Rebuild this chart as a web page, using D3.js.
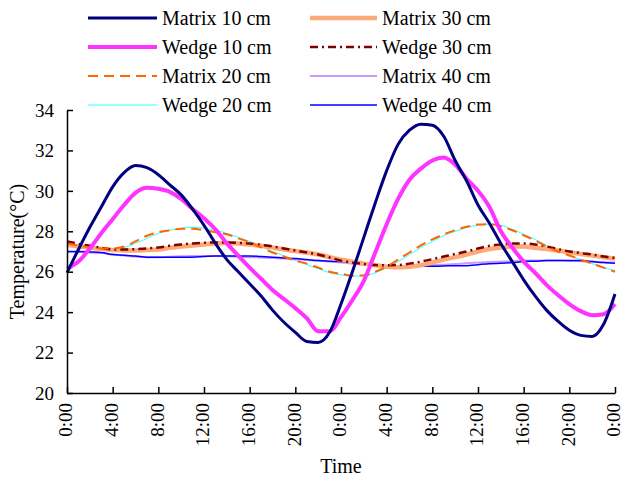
<!DOCTYPE html>
<html>
<head>
<meta charset="utf-8">
<script src="https://cdn.jsdelivr.net/npm/d3@7/dist/d3.min.js"></script>
<style>
    body { margin: 0; background: #ffffff; }
    svg text { font-family: "Liberation Serif", "Times New Roman", serif; fill: #000; }
</style>
</head>
<body>
<div id="chart"></div>
<script>
// soil temperature, two days, hourly readings

const hours = [0,1,2,3,4,5,6,7,8,9,10,11,12,13,14,15,16,17,18,19,20,21,22,23,24,
    25,26,27,28,29,30,31,32,33,34,35,36,37,38,39,40,41,42,43,44,45,46,47,48];

const matrix10 = [25.95,27.1,28.2,29.2,30.2,30.9,31.25,31.15,30.8,30.3,29.8,29.1,28.3,27.4,26.6,26.0,25.4,24.8,24.1,23.5,23.0,22.55,22.5,23.0,24.4,
    26.0,27.7,29.4,31.0,32.3,33.0,33.3,33.25,32.7,31.5,30.5,29.3,28.4,27.4,26.5,25.6,24.8,24.1,23.55,23.1,22.85,22.8,23.4,24.9];
const wedge10 = [26.15,26.5,27.15,27.9,28.6,29.3,29.9,30.15,30.1,29.95,29.6,29.1,28.65,28.1,27.4,26.8,26.2,25.65,25.1,24.65,24.2,23.7,23.05,23.05,23.75,
    24.6,25.55,26.95,28.35,29.6,30.55,31.1,31.5,31.65,31.3,30.6,30.0,29.2,28.0,27.2,26.5,25.95,25.35,24.85,24.4,24.05,23.85,23.9,24.4];
const matrix20 = [27.4,27.3,27.2,27.15,27.15,27.25,27.5,27.78,27.95,28.05,28.12,28.12,28.05,27.95,27.85,27.65,27.45,27.2,26.95,26.75,26.55,26.4,26.2,26.0,25.9,
    25.8,25.82,26.0,26.25,26.6,26.95,27.3,27.6,27.85,28.05,28.22,28.33,28.35,28.25,28.05,27.8,27.55,27.25,27.0,26.8,26.6,26.4,26.2,26.0];
const wedge20 = [27.35,27.25,27.15,27.1,27.1,27.2,27.4,27.65,27.9,28.05,28.15,28.2,28.15,28.05,27.9,27.7,27.5,27.25,27.0,26.78,26.55,26.35,26.15,25.95,25.85,
    25.78,25.8,25.95,26.2,26.5,26.85,27.2,27.5,27.78,28.0,28.18,28.3,28.35,28.3,28.1,27.85,27.6,27.3,27.05,26.8,26.6,26.4,26.2,26.05];
const matrix30 = [27.35,27.25,27.2,27.12,27.08,27.05,27.05,27.08,27.1,27.18,27.25,27.3,27.35,27.4,27.42,27.4,27.35,27.28,27.2,27.1,27.02,26.95,26.85,26.72,26.6,
    26.5,26.4,26.32,26.25,26.22,26.25,26.32,26.45,26.6,26.72,26.85,27.0,27.12,27.2,27.25,27.25,27.18,27.12,27.05,26.95,26.88,26.8,26.72,26.65];
const wedge30 = [27.5,27.38,27.28,27.18,27.1,27.1,27.12,27.15,27.2,27.28,27.35,27.4,27.43,27.45,27.45,27.43,27.4,27.33,27.25,27.15,27.05,26.95,26.85,26.7,26.55,
    26.45,26.38,26.33,26.32,26.33,26.4,26.5,26.62,26.75,26.88,27.0,27.15,27.28,27.35,27.4,27.4,27.35,27.25,27.12,27.0,26.92,26.85,26.75,26.68];
const matrix40 = [26.98,26.98,26.95,26.92,26.85,26.8,26.75,26.72,26.72,26.74,26.76,26.78,26.78,26.78,26.76,26.74,26.72,26.7,26.68,26.65,26.62,26.58,26.55,26.5,26.45,
    26.4,26.35,26.3,26.28,26.27,26.28,26.3,26.32,26.35,26.38,26.42,26.45,26.48,26.5,26.52,26.55,26.55,26.55,26.55,26.53,26.52,26.5,26.47,26.45];
const wedge40 = [27.0,27.0,26.98,26.95,26.85,26.82,26.78,26.72,26.72,26.72,26.72,26.72,26.75,26.78,26.78,26.78,26.78,26.75,26.72,26.68,26.65,26.6,26.55,26.52,26.5,
    26.48,26.42,26.35,26.3,26.27,26.27,26.27,26.27,26.28,26.3,26.3,26.35,26.4,26.42,26.45,26.5,26.52,26.55,26.55,26.55,26.55,26.5,26.45,26.42];

const seriesNames = ["Matrix 10 cm","Wedge 10 cm","Matrix 20 cm","Wedge 20 cm",
    "Matrix 30 cm","Wedge 30 cm","Matrix 40 cm","Wedge 40 cm"];

const tickHours = [0,4,8,12,16,20,24,28,32,36,40,44,48];
const tickLabels = ["0:00","4:00","8:00","12:00","16:00","20:00","0:00","4:00","8:00","12:00","16:00","20:00","0:00"];
const yTicks = [20,22,24,26,28,30,32,34];

// line styles per series
const styles = {
    "Matrix 10 cm": {values: matrix10, color: "#000080", width: 3, dash: null},
    "Wedge 10 cm":  {values: wedge10,  color: "#ff33ff", width: 4, dash: null},
    "Matrix 20 cm": {values: matrix20, color: "#ff6600", width: 2, dash: "10,6"},
    "Wedge 20 cm":  {values: wedge20,  color: "#33ffff", width: 1, dash: null},
    "Matrix 30 cm": {values: matrix30, color: "#fbaa78", width: 4.5, dash: null},
    "Wedge 30 cm":  {values: wedge30,  color: "#800000", width: 2.5, dash: "8,4,2,4"},
    "Matrix 40 cm": {values: matrix40, color: "#cc99ff", width: 2, dash: null},
    "Wedge 40 cm":  {values: wedge40,  color: "#0000ff", width: 1.5, dash: null}
};

// back to front
const drawOrder = ["Wedge 20 cm","Matrix 40 cm","Wedge 40 cm","Matrix 30 cm",
    "Wedge 30 cm","Matrix 20 cm","Wedge 10 cm","Matrix 10 cm"];

const width = 622;
const height = 477;
const margin = {top: 110, right: 7, bottom: 84, left: 67};

const svg = d3.select("#chart")
    .append("svg")
    .attr("width", width)
    .attr("height", height)
    .style("background-color", "#ffffff");

let xScale = d3.scaleLinear()
    .domain([0, 48])
    .range([margin.left, width - margin.right]);

let yScale = d3.scaleLinear()
    .domain([20, 34])
    .range([height - margin.bottom, margin.top]);

//lines
let line = d3.line()
    .x((d, i) => xScale(hours[i]))
    .y(d => yScale(d))
    .curve(d3.curveMonotoneX);

svg.append("g")
    .selectAll("path")
    .data(drawOrder)
    .enter()
    .append("path")
    .attr("d", d => line(styles[d].values))
    .style("fill", "none")
    .style("stroke", d => styles[d].color)
    .style("stroke-width", d => styles[d].width)
    .style("stroke-dasharray", d => styles[d].dash)
    .style("stroke-linejoin", "round");

//axes, ticks point inward
let xAxis = d3.axisTop(xScale)
    .tickValues(tickHours)
    .tickSize(6)
    .tickSizeOuter(0)
    .tickFormat("");

svg.append("g")
    .attr("transform", `translate(0,${yScale(20)})`)
    .call(xAxis)
    .call(g => g.selectAll("line, path").attr("stroke", "#000").attr("stroke-width", 1.5));

let yAxis = d3.axisRight(yScale)
    .tickValues(yTicks)
    .tickSize(6)
    .tickSizeOuter(0)
    .tickFormat("");

svg.append("g")
    .attr("transform", `translate(${xScale(0)},0)`)
    .call(yAxis)
    .call(g => g.selectAll("line, path").attr("stroke", "#000").attr("stroke-width", 1.5));

//tick labels
svg.append("g")
    .selectAll("text")
    .data(yTicks)
    .enter()
    .append("text")
    .attr("x", xScale(0) - 13)
    .attr("y", d => yScale(d))
    .attr("dy", "0.35em")
    .attr("text-anchor", "end")
    .style("font-size", "19px")
    .text(d => d);

svg.append("g")
    .selectAll("text")
    .data(tickHours)
    .enter()
    .append("text")
    .attr("transform", d => `translate(${xScale(d)},${yScale(20) + 10}) rotate(-90)`)
    .attr("dy", "0.28em")
    .attr("text-anchor", "end")
    .style("font-size", "19px")
    .text((d, i) => tickLabels[i]);

//axis titles
svg.append("text")
    .attr("transform", `translate(24,${(yScale(20) + yScale(34)) / 2}) rotate(-90)`)
    .attr("text-anchor", "middle")
    .style("font-size", "20px")
    .text("Temperature(\u00b0C)");

svg.append("text")
    .attr("x", (xScale(0) + xScale(48)) / 2)
    .attr("y", 473)
    .attr("text-anchor", "middle")
    .style("font-size", "20px")
    .text("Time");

//legend, two columns of four
let legendCols = [{x1: 88, x2: 157, tx: 162}, {x1: 310, x2: 377, tx: 382}];

let legend = svg.append("g")
    .selectAll("g")
    .data(seriesNames)
    .enter()
    .append("g")
    .attr("transform", (d, i) => `translate(0,${18 + (i % 4) * 29})`);

legend.append("line")
    .attr("x1", (d, i) => legendCols[Math.floor(i / 4)].x1)
    .attr("x2", (d, i) => legendCols[Math.floor(i / 4)].x2)
    .style("stroke", d => styles[d].color)
    .style("stroke-width", d => styles[d].width)
    .style("stroke-dasharray", d => styles[d].dash);

legend.append("text")
    .attr("x", (d, i) => legendCols[Math.floor(i / 4)].tx)
    .attr("y", 7)
    .style("font-size", "20px")
    .text(d => d);
</script>
</body>
</html>
